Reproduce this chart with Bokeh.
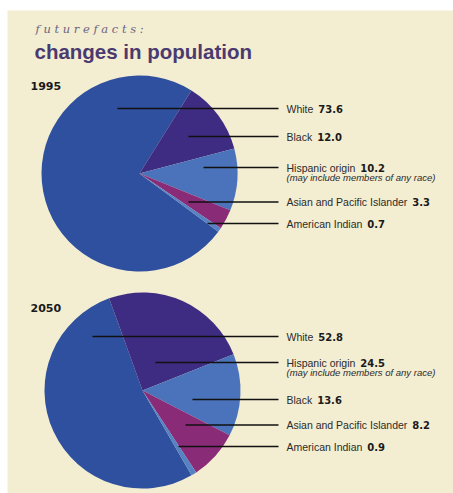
from bokeh.plotting import figure
from bokeh.models import Range1d
from bokeh.core.properties import value
from bokeh.embed import file_html
from bokeh.resources import INLINE
import math

# ---- data ----
groups_1995 = ["White", "Black", "Hispanic origin", "Asian and Pacific Islander", "American Indian"]
values_1995 = [73.6, 12.0, 10.2, 3.3, 0.7]
groups_2050 = ["White", "Hispanic origin", "Black", "Asian and Pacific Islander", "American Indian"]
values_2050 = [52.8, 24.5, 13.6, 8.2, 0.9]
years = ["1995", "2050"]
note = "(may include members of any race)"

# ---- style (colours by slice position) ----
SLICE_COLORS = ["#2f509f", "#3e2b82", "#4a73bb", "#8a2b78", "#5682c4"]
CREAM = "#f3edd1"
W, H = 453, 493
LABEL_PX = 10.5

# Arial / Liberation Sans advance widths (per 1000 em) for label width estimate
ADV = {"W": 944, "h": 556, "i": 222, "t": 278, "e": 556, "B": 667, "l": 222, "a": 556,
       "c": 500, "k": 500, "H": 722, "s": 500, "p": 556, "n": 556, " ": 278, "o": 556,
       "r": 333, "g": 556, "A": 667, "d": 556, "P": 667, "f": 278, "I": 278, "m": 833}


def text_width(s, px):
    return sum(ADV.get(ch, 556) for ch in s) * px / 1000.0


p = figure(width=W, height=H, output_backend="svg", toolbar_location=None,
           x_range=Range1d(0, W), y_range=Range1d(H, 0),
           x_axis_type=None, y_axis_type=None, min_border=0,
           background_fill_color="white", border_fill_color="white",
           outline_line_color=None)
p.grid.visible = False

# cream panel
p.quad(left=[7], right=[W], top=[10], bottom=[H], fill_color=CREAM, line_color=None)

# titles
p.text(x=[35], y=[28], text=["f u t u r e f a c t s :"], text_font=value("DejaVu Serif"),
       text_font_style="italic", text_font_size="11.5px", text_color="#6c6480",
       text_baseline="alphabetic")
p.text(x=[34], y=[51], text=["changes in population"], text_font=value("Liberation Sans"),
       text_font_style="bold", text_font_size="20.5px", text_color="#4a3a70",
       text_baseline="alphabetic")

# layout per chart
layout = [
    dict(cx=139, cy=173, r=98, start=-36.5, year_y=85,
         line_y=[108, 136, 167, 201.5, 223], line_x0=[117, 188, 203, 188, 207]),
    dict(cx=142, cy=390, r=98, start=-60, year_y=307,
         line_y=[336, 362, 399, 424.5, 446], line_x0=[92, 155, 192, 185, 178]),
]
LABEL_X = 286
LINE_X1 = 278
GAP = 5

for year, groups, vals, L in zip(years, [groups_1995, groups_2050], [values_1995, values_2050], layout):
    total = sum(vals)
    starts, ends = [], []
    cum = 0.0
    for v in vals:
        a0 = math.radians(L["start"]) - 2 * math.pi * cum / total
        cum += v
        a1 = math.radians(L["start"]) - 2 * math.pi * cum / total
        starts.append(a0)
        ends.append(a1)
    p.wedge(x=[L["cx"]] * len(vals), y=[L["cy"]] * len(vals), radius=L["r"],
            start_angle=starts, end_angle=ends, direction="clock",
            fill_color=SLICE_COLORS[:len(vals)], line_color=None)
    # year label
    p.text(x=[30], y=[L["year_y"]], text=[year], text_font=value("DejaVu Sans"),
           text_font_style="bold", text_font_size="11px", text_color="#1a1a1a",
           text_baseline="middle")
    # leader lines
    p.segment(x0=L["line_x0"], y0=L["line_y"], x1=[LINE_X1] * len(vals), y1=L["line_y"],
              line_color="#111111", line_width=1.5)
    # labels
    p.text(x=[LABEL_X] * len(vals), y=L["line_y"], text=groups,
           text_font=value("Liberation Sans"), text_font_size=f"{LABEL_PX}px",
           text_color="#2b2b2b", text_baseline="middle")
    val_x = [LABEL_X + text_width(g, LABEL_PX) + GAP for g in groups]
    p.text(x=val_x, y=L["line_y"], text=[f"{v:.1f}" for v in vals],
           text_font=value("DejaVu Sans"), text_font_style="bold", text_font_size="10px",
           text_color="#1a1a1a", text_baseline="middle")
    hi = groups.index("Hispanic origin")
    p.text(x=[LABEL_X], y=[L["line_y"][hi] + 10], text=[note],
           text_font=value("Liberation Sans"), text_font_style="italic",
           text_font_size="9.5px", text_color="#2b2b2b", text_baseline="middle")

open("out.html", "w").write(file_html(p, INLINE))
